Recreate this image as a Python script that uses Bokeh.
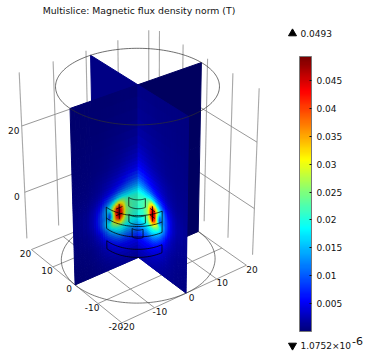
import numpy as np
from bokeh.plotting import figure
from bokeh.embed import file_html
from bokeh.resources import INLINE
from bokeh.models import ColorBar, LinearColorMapper, FixedTicker, ColumnDataSource
from bokeh.core.properties import value

title_text = "Multislice: Magnetic flux density norm (T)"
tick_values = [0.005, 0.01, 0.015, 0.02, 0.025, 0.03, 0.035, 0.04, 0.045]
tick_labels = ["0.005", "0.01", "0.015", "0.02", "0.025", "0.03", "0.035", "0.04", "0.045"]
data_max, data_min = 0.0493, 1.0752e-6
max_label, min_label, min_exp = "0.0493", "1.0752\u00d710", "-6"
floor_ticks = [20, 10, 0, -10, -20]
floor_ticks_b = [-20, -10, 0, 10, 20]
z_ticks = [20, 0]

# slice table, mT: radius from axis along a slice (columns), height (rows)
radii = [0, 2, 4, 5, 6, 7, 8, 9, 10, 12, 14, 16, 20]
heights = [35, 25, 18, 14, 11, 8, 6, 4, 3, 2, 1, 0, -1, -2, -3, -4, -5, -7, -9, -11, -14, -17]
field_mT = [
    [.5, .5, .5, .5, .5, .4, .4, .4, .4, .4, .4, .4, .3],
    [1.2, 1.1, 1, 1, .9, .9, .8, .8, .7, .6, .6, .5, .4],
    [2.4, 2.2, 1.9, 1.7, 1.6, 1.4, 1.3, 1.2, 1.1, .9, .8, .7, .5],
    [3.8, 3.4, 2.8, 2.5, 2.2, 2, 1.8, 1.6, 1.4, 1.1, .9, .8, .6],
    [5.5, 5, 4.2, 3.8, 3.4, 3, 2.7, 2.4, 2.1, 1.6, 1.2, .9, .7],
    [9, 8.5, 7, 6.2, 5.4, 4.8, 4.2, 3.6, 3.1, 2.1, 1.5, 1.1, .8],
    [13, 12.5, 11, 10, 8.8, 7.6, 6.5, 5.5, 4.6, 2.9, 1.9, 1.3, .9],
    [18, 18, 17.5, 18, 17, 15, 12.5, 10.5, 8.5, 4.5, 2.6, 1.6, 1],
    [20, 20.5, 22, 25, 26, 23, 18, 14, 11, 5.5, 3, 1.8, 1],
    [21, 21.5, 24, 30, 35, 32, 25, 18, 14, 6.5, 3.3, 1.9, 1.1],
    [21.5, 22, 25, 35, 44, 40, 30, 17, 15, 7.5, 3.5, 2, 1.1],
    [21.5, 22, 26, 38, 48, 44, 26, 10, 15, 8, 3.6, 2, 1.1],
    [21, 21.5, 26, 38, 48, 43, 24, 8, 14, 8.2, 3.6, 2, 1.1],
    [20.5, 21, 25, 36, 45, 40, 26, 13, 16, 8, 3.5, 1.9, 1],
    [20, 20.5, 24, 31, 37, 33, 27, 19, 16, 7.2, 3.1, 1.8, 1],
    [19, 19, 22, 26, 28, 26, 23, 18, 14, 6.2, 2.8, 1.6, .9],
    [17, 17.5, 19, 20, 21, 20, 18, 15, 11, 5, 2.4, 1.5, .9],
    [13, 13, 13, 14, 14, 13, 11, 9, 7, 3.5, 2, 1.3, .8],
    [8.5, 8.5, 8.5, 8.5, 8.5, 7.5, 6.5, 5.2, 4.2, 2.5, 1.5, 1, .7],
    [5.5, 5.5, 5.5, 5.3, 5, 4.6, 4.1, 3.6, 3, 2, 1.3, .9, .6],
    [3, 3, 3, 2.9, 2.8, 2.6, 2.4, 2.1, 1.9, 1.4, 1, .7, .5],
    [1.8, 1.8, 1.8, 1.7, 1.7, 1.6, 1.5, 1.4, 1.3, 1, .8, .6, .4],
]
back_field_mT = [.4, .6, .5]  # top, middle, bottom of the two rear slices

# wire frame: radius, z_low, z_high of the coil parts
wire_parts = [(3, .3, 3), (3, -4.6, -2.2), (2, -9.6, -7), (10, -3.7, 2.8), (10, -10, -7.5)]
wire_rings = [(10, -0.5)]
coil_section = dict(r=[5, 7], r_mid=6, z_bars=[1, -1], z_span=[-2.5, 2.2])

# camera calibration: model point -> picture pixel
Z0, Z1 = -17, 35
model_pts = [(20, -20, Z0), (-20, -20, Z0), (-20, 20, Z0), (0, 0, Z0), (0, 0, Z1), (0, -20, Z1), (0, -20, Z0),
             (-20, 0, Z1), (-20, 0, Z0), (0, 20, Z1), (0, 20, Z0), (20, 0, Z1)]
pixel_pts = [(31, 252), (122, 325), (245, 268), (138, 255), (138, 84), (70, 108), (74, 281),
             (188, 116), (185, 290), (201, 62), (199, 230), (89, 55)]


def calibrate(m, q):
    rows, rhs = [], []
    for (a, b, c), (u, v) in zip(m, q):
        rows.append([a, b, c, 1, 0, 0, 0, 0, -u * a, -u * b, -u * c])
        rhs.append(u)
        rows.append([0, 0, 0, 0, a, b, c, 1, -v * a, -v * b, -v * c])
        rhs.append(v)
    return np.append(np.linalg.lstsq(np.array(rows, float), np.array(rhs, float), rcond=None)[0], 1).reshape(3, 4)


P = calibrate(model_pts, pixel_pts)


def proj(a, b, c):
    a, b, c = np.broadcast_arrays(np.asarray(a, float), np.asarray(b, float), np.asarray(c, float))
    w = P[2, 0] * a + P[2, 1] * b + P[2, 2] * c + P[2, 3]
    return (P[0, 0] * a + P[0, 1] * b + P[0, 2] * c + P[0, 3]) / w, (P[1, 0] * a + P[1, 1] * b + P[1, 2] * c + P[1, 3]) / w


anchors = [(0, (0, 0, 120)), (.11, (0, 0, 255)), (.375, (0, 255, 255)), (.5, (120, 255, 130)), (.625, (255, 255, 0)),
           (.875, (255, 0, 0)), (1, (120, 0, 0))]
_t = np.array([a[0] for a in anchors])
_c = np.array([a[1] for a in anchors], float)


def rgb(frac):
    return np.stack([np.interp(frac, _t, _c[:, i]) for i in range(3)], -1)


palette = ["#%02x%02x%02x" % tuple(int(round(x)) for x in rgb(i / 255)) for i in range(256)]

p = figure(width=370, height=354, x_range=(0, 370), y_range=(354, 0), toolbar_location=None,
           output_backend="svg", min_border=0, margin=(0, 0, 0, 0), outline_line_color=None)
p.axis.visible = False
p.grid.visible = False


def polyline(a, b, c, **kw):
    x, y = proj(a, b, c)
    p.line(x, y, **kw)


GREY = dict(line_color="#a8a8a8", line_width=1.1)
FLOOR = dict(line_color="#8c8c8c", line_width=0.9)
W_OFF = 22
Z_LOW, Z_HIGH = -14.5, 35.5
for t in floor_ticks:
    polyline([W_OFF, W_OFF], [t, t], [Z_LOW, Z_HIGH], **GREY)
    polyline([t, t], [W_OFF, W_OFF], [Z_LOW, Z_HIGH], **GREY)
for z in z_ticks:
    polyline([W_OFF, W_OFF], [-20, 20], [z, z], **FLOOR)
    polyline([-20, 20], [W_OFF, W_OFF], [z, z], **FLOOR)
for t in floor_ticks:
    polyline([t, t], [-20, 20], [Z0, Z0], **FLOOR)
    polyline([-20, 20], [t, t], [Z0, Z0], **FLOOR)

theta = np.linspace(0, 2 * np.pi, 181)
polyline(20 * np.cos(theta), 20 * np.sin(theta), Z0 + 0 * theta, line_color="#404040", line_width=0.7)


def panel(fn, rr, zz, vals, shade, sub=3):
    rr, zz, vals = np.asarray(rr, float), np.asarray(zz, float), np.asarray(vals, float)
    ri = np.concatenate([np.linspace(rr[i], rr[i + 1], sub, endpoint=False) for i in range(len(rr) - 1)] + [rr[-1:]])
    zi = np.concatenate([np.linspace(zz[i], zz[i + 1], sub, endpoint=False) for i in range(len(zz) - 1)] + [zz[-1:]])
    by_r = np.array([np.interp(ri, rr, row) for row in vals])
    grid = np.array([np.interp(-zi, -zz, by_r[:, j]) for j in range(len(ri))]).T
    xs, ys, cols = [], [], []
    for i in range(len(zi) - 1):
        for j in range(len(ri) - 1):
            v = grid[i:i + 2, j:j + 2].mean() * 1e-3
            c = rgb(np.clip(v / data_max, 0, 1)) * shade
            a, b = fn(ri[[j, j + 1, j + 1, j]])
            x, y = proj(a, b, zi[[i, i, i + 1, i + 1]])
            xs.append(x.tolist())
            ys.append(y.tolist())
            cols.append("#%02x%02x%02x" % tuple(int(q) for q in c))
    p.patches(xs="xs", ys="ys", fill_color="c", line_color="c", line_width=1,
              source=ColumnDataSource(dict(xs=xs, ys=ys, c=cols)))


back_z = [Z1, 10, Z0]
back_vals = [[v, v] for v in back_field_mT]
panel(lambda r: (r, 0 * r), [0, 20], back_z, back_vals, 1.0, sub=1)
panel(lambda r: (0 * r, r), [0, 20], back_z, back_vals, 0.72, sub=1)
panel(lambda r: (0 * r, -r), radii, heights, field_mT, 0.85)
panel(lambda r: (-r, 0 * r), radii, heights, field_mT, 1.0)

polyline(20 * np.cos(theta), 20 * np.sin(theta), Z1 + 0 * theta, line_color="#303030", line_width=0.7)

phi = np.linspace(0, np.pi / 2, 31)
WIRE = dict(line_color="#000000", line_width=0.75)
for r, z_lo, z_hi in wire_parts:
    for z in (z_lo, z_hi):
        polyline(-r * np.sin(phi), -r * np.cos(phi), z + 0 * phi, **WIRE)
    polyline([0, 0], [-r, -r], [z_lo, z_hi], **WIRE)
    polyline([-r, -r], [0, 0], [z_lo, z_hi], **WIRE)
for r, z in wire_rings:
    polyline(-r * np.sin(phi), -r * np.cos(phi), z + 0 * phi, **WIRE)
for sign_a, sign_b in ((0, -1), (-1, 0)):
    rm = coil_section["r_mid"]
    polyline([sign_a * rm] * 2, [sign_b * rm] * 2, coil_section["z_span"], **WIRE)
    for z in coil_section["z_bars"]:
        rs = np.array(coil_section["r"], float)
        polyline(sign_a * rs, sign_b * rs, [z, z], **WIRE)

FONT = dict(text_font=value("DejaVu Sans"), text_font_size="9px", text_color="#111111", text_baseline="middle")


def label(x, y, s, align="center", size="9px"):
    kw = dict(FONT)
    kw["text_font_size"] = size
    p.text([x], [y], text=[s], text_align=align, **kw)


for t in floor_ticks:
    x, y = proj(t, -20, Z0)
    label(float(x) - 6, float(y) + 3.5, str(t))
for t in floor_ticks_b:
    x, y = proj(-20, t, Z0)
    label(float(x) + 5.5, float(y) + 4, str(t))
for z in z_ticks:
    x, y = proj(W_OFF, -20, z)
    label(float(x) - 8, float(y) + 4, str(z))

label(138.5, 10, title_text, size="9.3px")

mapper = LinearColorMapper(palette=palette, low=data_min, high=data_max)
cb = ColorBar(color_mapper=mapper, location=(299, 23), width=12, height=275, padding=0, margin=0,
              ticker=FixedTicker(ticks=tick_values),
              major_label_overrides=dict(zip(tick_values, tick_labels)),
              major_label_text_font="DejaVu Sans", major_label_text_font_size="9px",
              major_label_text_color="#111111", major_tick_line_color="#111111", major_tick_in=2,
              minor_tick_line_color=None, bar_line_color="#777777", border_line_color=None,
              background_fill_color=None, label_standoff=5)
p.add_layout(cb, "center")

p.scatter([292], [33], marker="triangle", size=8, fill_color="black", line_color="black")
p.scatter([292], [345], marker="inverted_triangle", size=8, fill_color="black", line_color="black")
label(300, 33, max_label, "left")
label(300, 345, min_label, "left")
label(351.5, 340, min_exp, "left", "11px")

open("out.html", "w").write(file_html(p, INLINE))
